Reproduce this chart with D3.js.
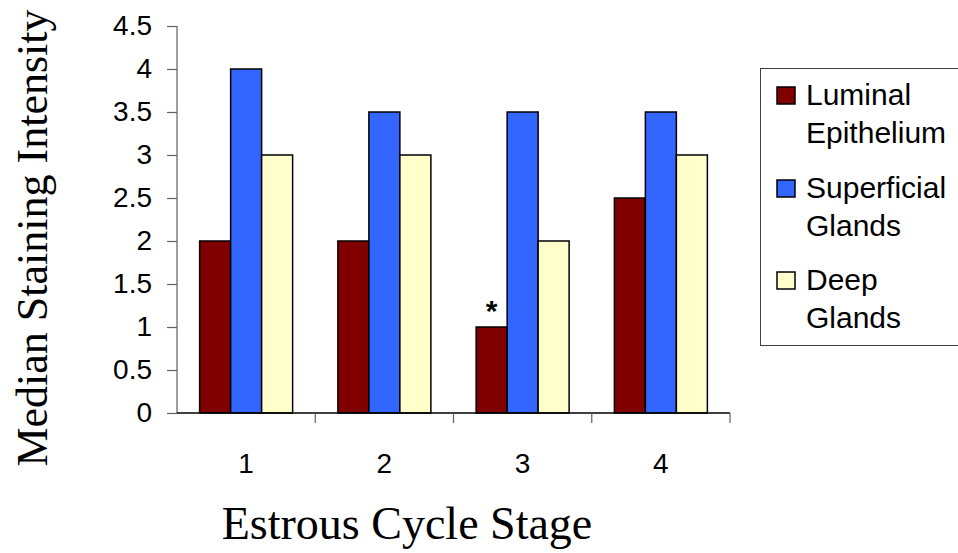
<!DOCTYPE html>
<html>
<head>
<meta charset="utf-8">
<script src="https://cdn.jsdelivr.net/npm/d3@7"></script>
<style>
  html, body { margin: 0; padding: 0; background: #fff; }
  svg { display: block; }
</style>
</head>
<body>
<svg id="chart" width="958" height="553"></svg>
<script>
// Estrous cycle stages and median staining intensity per tissue compartment
const stages = ["1", "2", "3", "4"];
const seriesNames = ["Luminal Epithelium", "Superficial Glands", "Deep Glands"];
const legendLines = [["Luminal", "Epithelium"], ["Superficial", "Glands"], ["Deep", "Glands"]];
const luminal = [2, 2, 1, 2.5];
const superficial = [4, 3.5, 3.5, 3.5];
const deep = [3, 3, 2, 3];
const yTicks = [0, 0.5, 1, 1.5, 2, 2.5, 3, 3.5, 4, 4.5];
const seriesColors = ["#800000", "#3366ff", "#ffffcc"];
const significant = [false, false, true, false];  // flagged with an asterisk

const seriesValues = [luminal, superficial, deep];

const svg = d3.select("#chart");
const plotLeft = 177, plotRight = 730, plotTop = 26, plotBottom = 413;

const x = d3.scaleBand().domain(stages).range([plotLeft, plotRight]).paddingInner(0).paddingOuter(0);
const barW = 31;
const groupW = barW * seriesNames.length;
const y = d3.scaleLinear().domain([0, 4.5]).range([plotBottom, plotTop]);

// Bars
seriesNames.forEach((name, si) => {
  svg.append("g").selectAll("rect")
    .data(stages.map((s, i) => ({ s, v: seriesValues[si][i] })))
    .join("rect")
    .attr("x", d => x(d.s) + (x.bandwidth() - groupW) / 2 + si * barW)
    .attr("y", d => y(d.v))
    .attr("width", barW)
    .attr("height", d => plotBottom - y(d.v))
    .attr("fill", seriesColors[si])
    .attr("stroke", "#000")
    .attr("stroke-width", 1.5);
});

// Asterisk markers
svg.append("g").selectAll("text")
  .data(stages.filter((s, i) => significant[i]))
  .join("text")
  .attr("x", d => x(d) + (x.bandwidth() - groupW) / 2 + barW / 2)
  .attr("y", d => y(luminal[stages.indexOf(d)]) - 6)
  .attr("text-anchor", "middle")
  .attr("font-family", "Liberation Sans, Arial, sans-serif")
  .attr("font-size", 30)
  .attr("font-weight", "bold")
  .text("*");

// Y axis
const yAxis = svg.append("g")
  .attr("transform", `translate(${plotLeft},0)`)
  .call(d3.axisLeft(y).tickValues(yTicks).tickFormat(d3.format("")).tickSize(10).tickPadding(15));
yAxis.select(".domain").attr("stroke", "#808080").attr("stroke-width", 1.5).attr("d", `M0,${plotTop}V${plotBottom}`);
yAxis.selectAll(".tick line").attr("stroke", "#606060").attr("stroke-width", 1.2);
yAxis.selectAll(".tick text")
  .attr("font-family", "Liberation Sans, Arial, sans-serif")
  .attr("font-size", 28)
  .attr("fill", "#000");

// X axis: baseline with separators between stages
const xg = svg.append("g");
xg.append("line")
  .attr("x1", plotLeft).attr("x2", plotRight)
  .attr("y1", plotBottom).attr("y2", plotBottom)
  .attr("stroke", "#000").attr("stroke-width", 1.5);
xg.selectAll("line.sep")
  .data(stages.slice(1).concat(["end"]))
  .join("line")
  .attr("class", "sep")
  .attr("x1", d => d === "end" ? plotRight : x(d))
  .attr("x2", d => d === "end" ? plotRight : x(d))
  .attr("y1", plotBottom).attr("y2", plotBottom + 10)
  .attr("stroke", "#606060").attr("stroke-width", 1.2);
xg.selectAll("text")
  .data(stages)
  .join("text")
  .attr("x", d => x(d) + x.bandwidth() / 2)
  .attr("y", 473)
  .attr("text-anchor", "middle")
  .attr("font-family", "Liberation Sans, Arial, sans-serif")
  .attr("font-size", 28)
  .text(d => d);

// Axis titles
svg.append("text")
  .attr("x", 407).attr("y", 539)
  .attr("text-anchor", "middle")
  .attr("font-family", "Liberation Serif, Times New Roman, serif")
  .attr("font-size", 46)
  .text("Estrous Cycle Stage");

svg.append("text")
  .attr("transform", "translate(47,238) rotate(-90)")
  .attr("text-anchor", "middle")
  .attr("font-family", "Liberation Serif, Times New Roman, serif")
  .attr("font-size", 44)
  .text("Median Staining Intensity");

// Legend
const lg = svg.append("g");
lg.append("rect")
  .attr("x", 760.5).attr("y", 68.5)
  .attr("width", 220).attr("height", 277)
  .attr("fill", "#fff").attr("stroke", "#404040").attr("stroke-width", 1);
const itemY = [105, 198, 290];
seriesNames.forEach((name, i) => {
  const g = lg.append("g");
  g.append("rect")
    .attr("x", 777).attr("y", itemY[i] - 18)
    .attr("width", 18).attr("height", 17)
    .attr("fill", seriesColors[i]).attr("stroke", "#000").attr("stroke-width", 1.5);
  g.append("text")
    .attr("font-family", "Liberation Sans, Arial, sans-serif")
    .attr("font-size", 30)
    .selectAll("tspan")
    .data(legendLines[i])
    .join("tspan")
    .attr("x", 806)
    .attr("y", (d, j) => itemY[i] + j * 38)
    .text(d => d);
});
</script>
</body>
</html>
